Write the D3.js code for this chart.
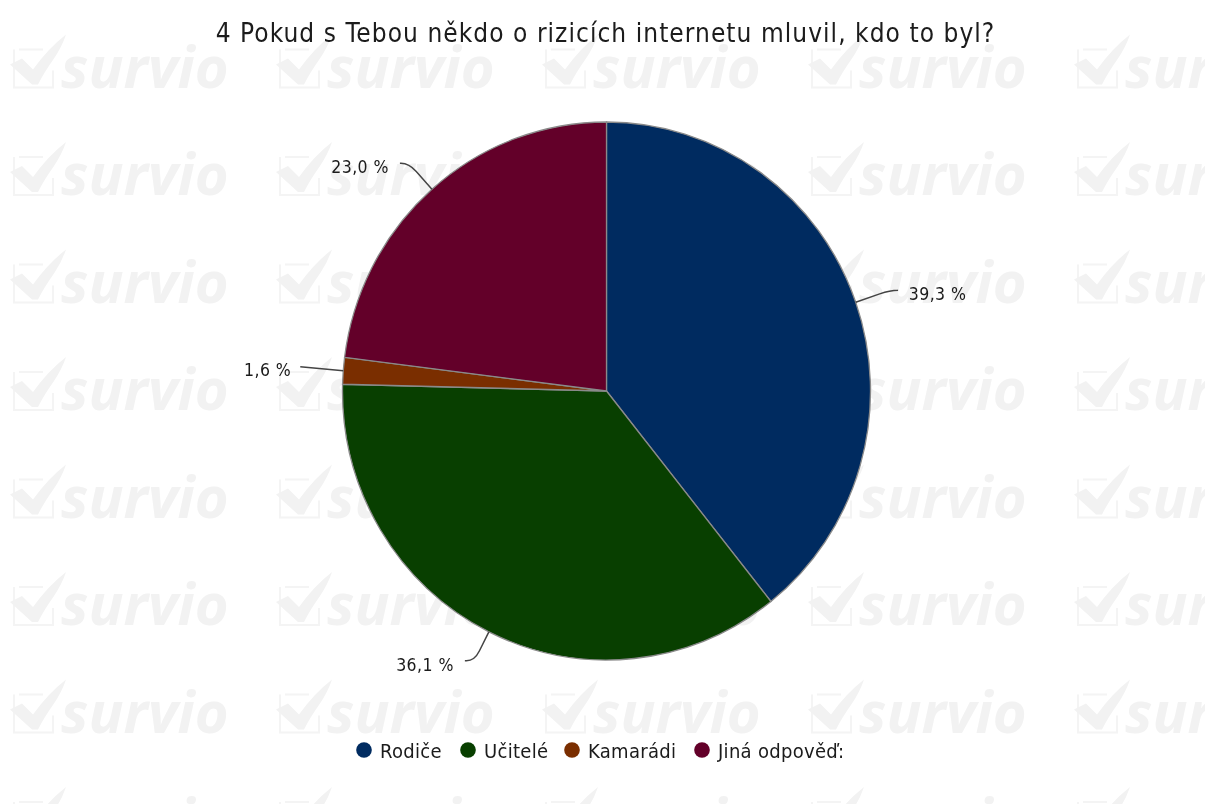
<!DOCTYPE html>
<html><head><meta charset="utf-8">
<script src="https://cdn.jsdelivr.net/npm/d3@7/dist/d3.min.js"></script>
<style>html,body{margin:0;padding:0;background:#fff;overflow:hidden}svg{display:block}</style>
</head><body><svg id="c" width="1205" height="804"></svg>
<script>
const titleText = "4 Pokud s Tebou někdo o rizicích internetu mluvil, kdo to byl?";
const categories = ["Rodiče","Učitelé","Kamarádi","Jiná odpověď:"];
const values = [39.3,36.1,1.6,23.0];
const valueLabels = ["39,3 %","36,1 %","1,6 %","23,0 %"];
const colors = ["#002b60","#083f00","#7a2e00","#630029"];
const FONT = "'DejaVu Sans Condensed','DejaVu Sans',sans-serif";
const svg = d3.select("#c");

// watermark
const defs = svg.append("defs");
defs.append("filter").attr("id","soft").append("feGaussianBlur").attr("stdDeviation",0.6);
defs.append("filter").attr("id","txt").append("feGaussianBlur").attr("stdDeviation",0.35);
const wm = defs.append("g").attr("id","wm").attr("filter","url(#soft)");
wm.append("path").attr("fill","none").attr("stroke","#f4f4f4").attr("stroke-width",2)
  .attr("d","M9,15 H33 M4,15 V53 H43 V36");
wm.append("path").attr("fill","#f2f2f2")
  .attr("d","M0,30 L12,24 L23,35 Q38,14 56,0 Q52,12 44,24 Q34,38 28,50 L22,50 Z");
wm.append("text").attr("x",51).attr("y",53).attr("font-family","'Open Sans',sans-serif")
  .attr("font-weight",700).attr("font-style","italic").attr("font-size",58).attr("fill","#f2f2f2").text("survio");
const wx = d3.range(5).map(i=>10+i*266), wy = d3.range(8).map(i=>34.5+i*107.5);
wx.forEach(x=>wy.forEach(y=>svg.append("use").attr("href","#wm").attr("x",x).attr("y",y)));

// title
svg.append("text").attr("x",605.5).attr("y",41.5).attr("text-anchor","middle").attr("filter","url(#txt)")
  .attr("font-family",FONT).attr("font-size",26).attr("letter-spacing",1.05).attr("fill","#1a1a1a").text(titleText);

// pie (the reference is slightly stretched vertically)
const cx=606.5, cy=391, r=264, sy=269/264;
const pie=d3.pie().sort(null).value(d=>d)(values);
const arc=d3.arc().innerRadius(0).outerRadius(r);
const g=svg.append("g").attr("transform",`translate(${cx},${cy}) scale(1,${sy})`);
g.selectAll("path").data(pie).join("path").attr("d",arc)
  .attr("fill",(d,i)=>colors[i]).attr("stroke","#8a8a8a").attr("stroke-width",1.3);

// labels with elbowed leaders: straight radial run, rounded knee, short horizontal end
const leaderEnd=[[42,-12],[-24,29],[-43,-4],[-32,-26]];
const ov=svg.append("g").attr("transform",`translate(${cx},${cy})`);
pie.forEach((d,i)=>{
  const a=(d.startAngle+d.endAngle)/2, s=Math.sin(a), c=-Math.cos(a), side=s>=0?1:-1;
  const p0=[s*r,c*r*sy], e=[p0[0]+leaderEnd[i][0],p0[1]+leaderEnd[i][1]];
  const t=leaderEnd[i][1]/c;
  let dPath=`M${p0}L${e}`;
  if(Math.abs(s*t)<Math.abs(leaderEnd[i][0])){
    const k=[p0[0]+s*t,e[1]];
    dPath=`M${p0}L${k[0]-s*11},${k[1]-c*11}Q${k} ${k[0]+side*8},${k[1]}L${e}`;
  }
  ov.append("path").attr("fill","none").attr("stroke","#444").attr("stroke-width",1.5).attr("d",dPath);
  ov.append("text").attr("x",e[0]+side*(i===2?9:11)).attr("y",e[1]+(i===2?9:10)).attr("text-anchor",side>0?"start":"end")
   .attr("filter","url(#txt)").attr("font-family",FONT).attr("font-size",17.5).attr("letter-spacing",0.45).attr("fill","#1a1a1a").text(valueLabels[i]);
});

// legend
const lg=svg.append("g");
const legendGap=[0,104,104,130];
let x=356;
categories.forEach((t,i)=>{
  x+=legendGap[i];
  lg.append("circle").attr("cx",x+8).attr("cy",750).attr("r",7.8).attr("fill",colors[i]);
  lg.append("text").attr("x",x+24).attr("y",758).attr("filter","url(#txt)").attr("font-family",FONT).attr("font-size",20).attr("letter-spacing",0.3).attr("fill","#1a1a1a").text(t);
});
</script></body></html>
